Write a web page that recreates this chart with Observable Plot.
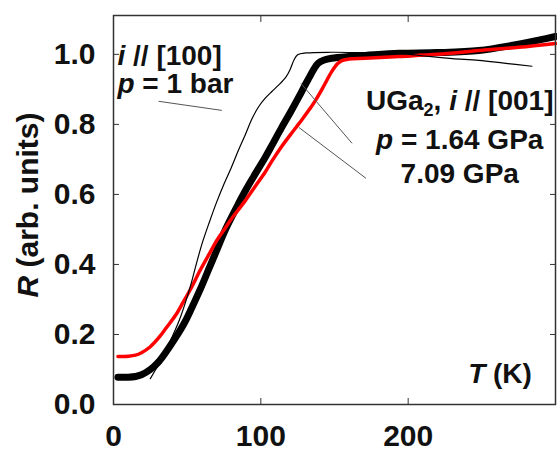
<!DOCTYPE html>
<html><head><meta charset="utf-8">
<script src="https://cdn.jsdelivr.net/npm/d3@7"></script>
<script src="https://cdn.jsdelivr.net/npm/@observablehq/plot@0.6"></script>
<style>
html,body{margin:0;padding:0;background:#fff;}
#chart svg{display:block;}
</style></head><body><div id="chart"></div>
<script>
// 1 bar, i // [100]  (T in K, R normalized)
const curve1bar = [[25,0.074],[30,0.11],[35,0.15],[40,0.195],[45.5,0.25],[52,0.335],[56,0.398],[60,0.458],[65,0.52],[70,0.578],[75,0.63],[80,0.677],[85,0.728],[89.6,0.772],[94,0.816],[98.6,0.851],[103,0.875],[107.5,0.894],[112,0.912],[117,0.935],[120,0.958],[122.5,0.984],[125,0.999],[131,1.004],[148,1.006],[170,1.005],[194,1.003],[214,0.994],[230,0.988],[248,0.983],[265,0.975],[284,0.966]];
// 1.64 GPa, i // [001]
const curve164 = [[3,0.078],[10,0.078],[15,0.08],[19,0.085],[25,0.1],[30.6,0.122],[36,0.152],[42,0.19],[48,0.232],[53,0.275],[59,0.33],[65,0.39],[71,0.45],[76,0.5],[85,0.575],[89.6,0.611],[95,0.65],[103,0.706],[107.5,0.74],[114,0.79],[120,0.834],[126,0.88],[130,0.912],[133,0.935],[136,0.958],[139,0.975],[143,0.984],[148,0.989],[160,0.994],[171,0.997],[194,1.003],[220,1.005],[248,1.011],[271,1.026],[290,1.042],[300,1.051]];
// 7.09 GPa, i // [001]
const curve709 = [[3,0.137],[10,0.138],[15,0.141],[19,0.148],[25,0.165],[30.6,0.19],[36,0.22],[42,0.254],[47,0.29],[53,0.335],[59,0.385],[65,0.43],[70,0.468],[76,0.505],[80,0.53],[86,0.563],[89.6,0.583],[96,0.622],[103,0.664],[107.5,0.695],[114,0.736],[120,0.77],[124,0.792],[128,0.814],[133,0.843],[137,0.868],[142,0.904],[148,0.95],[152,0.973],[155,0.982],[160,0.987],[171,0.989],[194,0.994],[220,1.0],[248,1.011],[275,1.02],[300,1.031]];

const xTicks = [0, 100, 200];
const xTopTicks = [100, 200];
const yTicks = [0, 0.2, 0.4, 0.6, 0.8, 1.0];
const yTickLabels = ["0.0", "0.2", "0.4", "0.6", "0.8", "1.0"];

const yLabel = "R (arb. units)";

// annotations in data coordinates [T, R, text, anchor]
const annotations = [
  [2.7, 0.969, "i // [100]", "start"],
  [2.7, 0.889, "p = 1 bar", "start"],
  [235, 0.84, "UGa2, i // [001]", "middle"],
  [235, 0.731, "p = 1.64 GPa", "middle"],
  [235, 0.634, "7.09 GPa", "middle"],
  [284, 0.06, "T (K)", "end"]
];
// leader lines [T1, R1, T2, R2]
const leaders = [
  [30.6, 0.866, 73.5, 0.84],
  [127.2, 0.917, 161.9, 0.746],
  [125.9, 0.791, 171.4, 0.646]
];

const rich = {
  "i // [100]": [["i","i"],[" // [100]"]],
  "p = 1 bar": [["p","i"],[" = 1 bar"]],
  "UGa2, i // [001]": [["UGa"],["2","sub"],[", "],["i","i"],[" // [001]"]],
  "p = 1.64 GPa": [["p","i"],[" = 1.64 GPa"]],
  "T (K)": [["T","i"],[" (K)"]],
  "R (arb. units)": [["R","i"],[" (arb. units)"]]
};

const FONT = "'Liberation Sans', Arial, sans-serif";
const tickFmt = d => yTickLabels[yTicks.findIndex(v => Math.abs(v - d) < 1e-9)];
const annotText = anchor => Plot.text(annotations.filter(d => d[3] === anchor), {
  x: d => d[0], y: d => d[1], text: d => d[2], textAnchor: anchor, lineAnchor: "bottom",
  fontSize: 28, fontWeight: "bold", fill: "#111"
});

const chart = Plot.plot({
  width: 557, height: 452,
  marginLeft: 113, marginRight: 2, marginTop: 15, marginBottom: 48,
  style: {fontFamily: FONT, background: "#fff"},
  x: {domain: [0, 300]},
  y: {domain: [0, 1.111]},
  marks: [
    Plot.line(curve164, {x: d => d[0], y: d => d[1], stroke: "#000", strokeWidth: 7, curve: "catmull-rom", strokeLinecap: "round"}),
    Plot.line(curve709, {x: d => d[0], y: d => d[1], stroke: "#f00", strokeWidth: 3.5, curve: "catmull-rom"}),
    Plot.line(curve1bar, {x: d => d[0], y: d => d[1], stroke: "#000", strokeWidth: 1.2, curve: "catmull-rom"}),
    Plot.link(leaders, {x1: d => d[0], y1: d => d[1], x2: d => d[2], y2: d => d[3], stroke: "#555", strokeWidth: 1}),
    Plot.frame({stroke: "#333", strokeWidth: 1.5}),
    Plot.axisX(xTicks, {anchor: "bottom", tickSize: -6, tickFormat: () => "", stroke: "#333", label: null}),
    Plot.axisX(xTopTicks, {anchor: "top", tickSize: -6, tickFormat: () => "", stroke: "#333", label: null}),
    Plot.axisY(yTicks, {anchor: "left", tickSize: -6, tickFormat: () => "", stroke: "#333", label: null}),
    Plot.axisY(yTicks, {anchor: "right", tickSize: -6, tickFormat: () => "", stroke: "#333", label: null}),
    Plot.axisX(xTicks, {anchor: "bottom", tickSize: 0, tickPadding: 20, fontSize: 30, fontWeight: "bold", fill: "#111", label: null}),
    Plot.axisY(yTicks, {anchor: "left", tickSize: 0, tickPadding: 18, tickFormat: tickFmt, fontSize: 30, fontWeight: "bold", fill: "#111", label: null}),
    annotText("start"),
    annotText("middle"),
    annotText("end"),
    Plot.text([yLabel], {frameAnchor: "left", textAnchor: "middle", rotate: -90, dx: -85, dy: -5, fontSize: 30, fontWeight: "bold", fill: "#111"})
  ]
});

// apply italic / subscript styling as real text tspans
chart.querySelectorAll("text").forEach(t => {
  const segs = rich[t.textContent];
  if (!segs || t.querySelector("tspan")) return;
  const ns = "http://www.w3.org/2000/svg";
  while (t.firstChild) t.removeChild(t.firstChild);
  let shifted = false;
  segs.forEach(([s, kind]) => {
    const ts = document.createElementNS(ns, "tspan");
    ts.textContent = s;
    if (kind === "i") ts.setAttribute("font-style", "italic");
    if (kind === "sub") { ts.setAttribute("font-size", "18"); ts.setAttribute("dy", "6"); shifted = true; }
    else if (shifted) { ts.setAttribute("dy", "-6"); shifted = false; }
    t.appendChild(ts);
  });
});

document.getElementById("chart").appendChild(chart);
</script>
</body></html>
